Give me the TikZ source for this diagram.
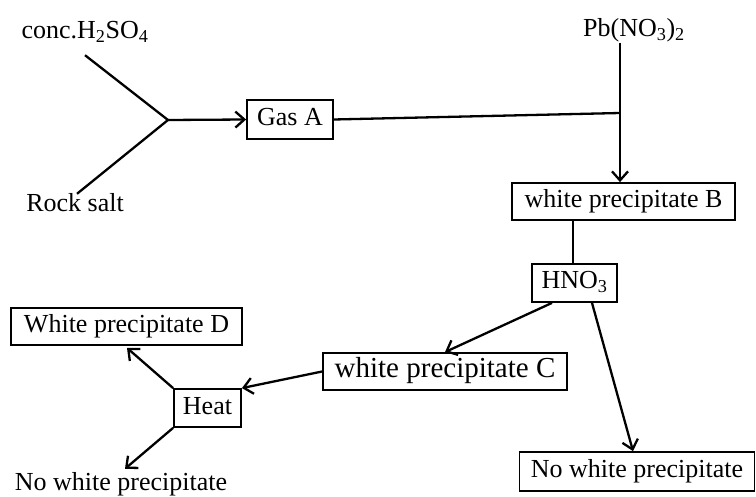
\documentclass[tikz,border=0pt]{standalone}
\usepackage{fontspec}
\setmainfont{Liberation Serif}
\usetikzlibrary{arrows.meta,calc}
\begin{document}
\begin{tikzpicture}[x=1pt,y=-1pt,
  every node/.style={font=\fontsize{26}{31}\selectfont, inner sep=0pt, text height=17pt, text depth=5pt},
  box/.style={draw, line width=1.8pt, align=center},
  conn/.style={line width=2.3pt},
  arr/.style={conn, -{Straight Barb[length=9pt,width=16pt,line width=2.3pt]}}]
\useasboundingbox (0,0) rectangle (756,497);
% text nodes
\node (conc) at (85,33) {conc.H\textsubscript{2}SO\textsubscript{4}};
\node (rock) at (75,206) {Rock salt};
\node (pb) at (634,31) {Pb(NO\textsubscript{3})\textsubscript{2}};
\node (nwl) at (121,484) {No white precipitate};
% boxes
\node[box, minimum width=86pt, minimum height=39pt] (gas) at (290,119.5) {Gas A};
\node[box, minimum width=223pt, minimum height=37pt] (B) at (623.5,201.5) {white precipitate B};
\node[box, minimum width=85pt, minimum height=38pt] (hno) at (574.5,283) {HNO\textsubscript{3}};
\node[box, minimum width=244pt, minimum height=37pt, font=\fontsize{29}{34}\selectfont] (C) at (445,371.5) {white precipitate C};
\node[box, minimum width=235pt, minimum height=39pt] (nwr) at (637,471.5) {No white precipitate};
\node[box, minimum width=67pt, minimum height=38pt] (heat) at (207.5,408) {Heat};
\node[box, minimum width=231pt, minimum height=37pt] (D) at (126.5,326.5) {White precipitate D};
% coordinates
\coordinate (m) at (168,120);
\coordinate (j) at (620,113);
% connectors
\draw[conn] ($(conc.south)+(0,11)$) -- (m);
\draw[conn] ($(rock.north)+(2,-1)$) -- (m);
\draw[arr] (m) -- (gas.west);
\draw[conn] (gas.east) -- (j);
\draw[arr] (j |- 0,43) -- (j |- B.north);
\draw[conn] (hno.north -| 573,0) -- (B.south -| 573,0);
\draw[arr] ($(hno.south)+(-22.5,0)$) -- (C.north);
\draw[arr] ($(hno.south)+(17.5,0)$) -- ($(nwr.north)+(-4,0)$);
\draw[arr] (C.west) -- (heat.north east);
\draw[arr] (heat.north west) -- ($(D.south)+(0.5,2)$);
\draw[arr] (heat.south west) -- ($(nwl.north)+(4,-4)$);
\end{tikzpicture}
\end{document}
